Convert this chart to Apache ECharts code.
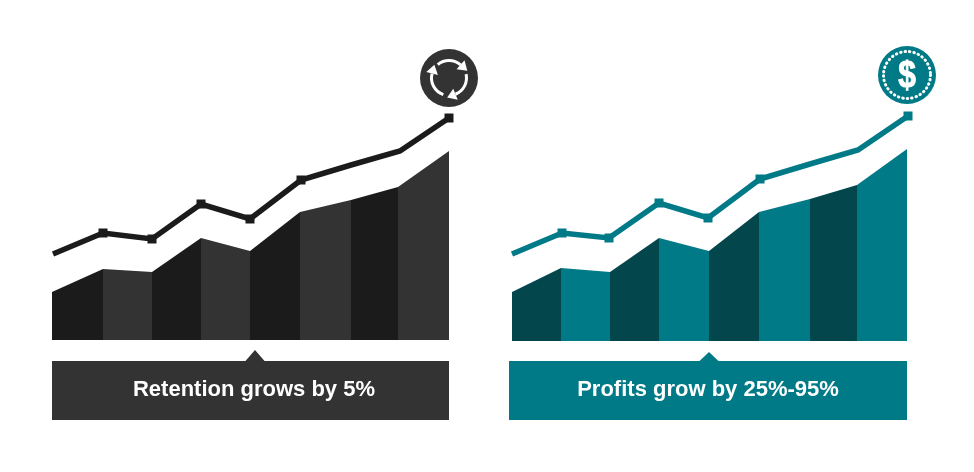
<!DOCTYPE html>
<html><head><meta charset="utf-8">
<script src="https://cdn.jsdelivr.net/npm/echarts@6/dist/echarts.min.js"></script>
<style>html,body{margin:0;padding:0;background:#fff}#c{width:974px;height:472px}</style></head>
<body><div id="c"></div>
<script>
// x = horizontal position along the chart, y = height above baseline
const retentionAreaX = [0, 51, 100, 149, 198, 248, 299, 346, 397];
const retentionAreaY = [48, 71, 68, 102, 89, 128, 140, 153, 189];
const retentionLineX = [1, 51, 100, 149, 198, 249, 299, 348, 397];
const retentionLineY = [86, 107, 101, 136, 121, 160, 175, 189, 222];
const profitsAreaX = [0, 49, 98, 147, 197, 247, 298, 345, 395];
const profitsAreaY = [49, 73, 69, 103, 90, 129, 142, 156, 192];
const profitsLineX = [0, 50, 97, 147, 196, 248, 298, 346, 396];
const profitsLineY = [87, 108, 103, 138, 123, 162, 177, 191, 225];
const noMarker = [0, 6, 7];
const retentionLabel = 'Retention grows by 5%';
const profitsLabel = 'Profits grow by 25%-95%';
const GREY = '#333333', BLACK = '#1b1b1b', TEAL = '#007a87', DEEP = '#03474d';

function areaSeries(xs, ys, axis, cDark, cLight) {
  const rows = xs.slice(0, -1).map((x, i) => [x, ys[i], xs[i + 1], ys[i + 1], i]);
  return {
    type: 'custom', xAxisIndex: axis, yAxisIndex: axis, silent: true, clip: false,
    encode: { x: [0, 2], y: [1, 3] }, data: rows,
    renderItem(params, api) {
      const a = api.coord([api.value(0), 0]), b = api.coord([api.value(0), api.value(1)]);
      const c = api.coord([api.value(2), api.value(3)]), d = api.coord([api.value(2), 0]);
      return { type: 'polygon', shape: { points: [a, b, c, d] },
        style: { fill: api.value(4) % 2 ? cLight : cDark } };
    }
  };
}
function lineSeries(xs, ys, axis, color) {
  return {
    type: 'line', xAxisIndex: axis, yAxisIndex: axis, silent: true, clip: false, animation: false,
    data: xs.map((x, i) => ({ value: [x, ys[i]], symbol: noMarker.includes(i) ? 'none' : 'rect', symbolSize: 9 })),
    lineStyle: { color, width: 5.5, join: 'miter' }, itemStyle: { color }, z: 3
  };
}
function xA(i, w) { return { type: 'value', gridIndex: i, min: 0, max: w, show: false }; }
function yA(i, h) { return { type: 'value', gridIndex: i, min: 0, max: h, show: false }; }

function banner(x, w, apex, apexY, color, label, cx) {
  return [
    { type: 'rect', shape: { x, y: 361, width: w, height: 59 }, style: { fill: color } },
    { type: 'polygon', shape: { points: [[apex - 10, 361.5], [apex, apexY], [apex + 10, 361.5]] }, style: { fill: color } },
    { type: 'text', x: cx, y: 390, style: { text: label, fill: '#fff', align: 'center', verticalAlign: 'middle',
      font: 'bold 22px "Liberation Sans", Arial, sans-serif' } }
  ];
}
function cycleIcon(cx, cy) {
  const out = [{ type: 'circle', shape: { cx, cy, r: 29 }, style: { fill: GREY } }];
  const r = 17.5;
  [[-2.27, -0.85], [-0.22, 1.19], [1.9, 3.4]].forEach(([s, e]) => {
    out.push({ type: 'arc', shape: { cx, cy, r, startAngle: s, endAngle: e, clockwise: true },
      style: { stroke: '#fff', lineWidth: 3, fill: null } });
    const tx = cx + r * Math.cos(e), ty = cy + r * Math.sin(e);
    const dir = e + Math.PI / 2;
    out.push({ type: 'polygon', shape: { points: [
      [tx + 9 * Math.cos(dir), ty + 9 * Math.sin(dir)],
      [tx + 6 * Math.cos(e), ty + 6 * Math.sin(e)],
      [tx - 6 * Math.cos(e), ty - 6 * Math.sin(e)]] },
      style: { fill: '#fff' } });
  });
  return out;
}
function dollarIcon(cx, cy) {
  return [
    { type: 'circle', shape: { cx, cy, r: 29 }, style: { fill: TEAL } },
    { type: 'circle', shape: { cx, cy, r: 23.5 }, style: { fill: null, stroke: '#fff', lineWidth: 3, lineDash: [0.5, 4], lineCap: 'round' } },
    { type: 'text', x: cx, y: cy + 2, scaleX: 0.88, style: { text: '$', fill: '#fff', stroke: '#fff', lineWidth: 1, align: 'center', verticalAlign: 'middle',
      font: 'bold 36px "Liberation Sans", Arial, sans-serif' } }
  ];
}

const chart = echarts.init(document.getElementById('c'), null, { renderer: 'canvas' });
chart.setOption({
  animation: false,
  backgroundColor: '#fff',
  tooltip: { show: false },
  grid: [
    { left: 52, top: 0, width: 397, height: 340 },
    { left: 512, top: 0, width: 395, height: 341 }
  ],
  xAxis: [xA(0, 397), xA(1, 395)],
  yAxis: [yA(0, 340), yA(1, 341)],
  series: [
    areaSeries(retentionAreaX, retentionAreaY, 0, BLACK, GREY),
    lineSeries(retentionLineX, retentionLineY, 0, BLACK),
    areaSeries(profitsAreaX, profitsAreaY, 1, DEEP, TEAL),
    lineSeries(profitsLineX, profitsLineY, 1, TEAL)
  ],
  graphic: [
    ...banner(52, 397, 255, 350, GREY, retentionLabel, 254),
    ...banner(509, 398, 709, 352, TEAL, profitsLabel, 708),
    ...cycleIcon(449, 78),
    ...dollarIcon(907, 75)
  ]
});
</script></body></html>
